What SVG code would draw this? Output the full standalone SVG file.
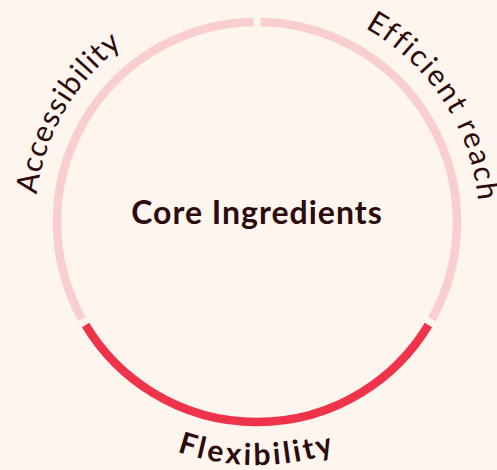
<svg xmlns="http://www.w3.org/2000/svg" width="497" height="470" viewBox="0 0 497 470">
  <style>
    .ring { fill: none; stroke-width: 8.5; stroke-linecap: butt; }
    .soft { stroke: #F9CED0; }
    .strong { stroke: #EE334A; }
    .lbl { font-family: Lato, "Liberation Sans", sans-serif; fill: #2B0B0D; }
    .arc { font-size: 30px; font-weight: 400; letter-spacing: 1.2px; }
    .arcr { letter-spacing: 1.8px; }
    .arcb { font-size: 30px; font-weight: 700; letter-spacing: 3px; }
    .title { font-size: 32px; font-weight: 700; letter-spacing: 1px; }
  </style>
  <defs>
    <path id="tpLeft" d="M 64.74 333 A 222 222 0 0 1 257 0"/>
    <path id="tpRight" d="M 257 0 A 222 222 0 0 1 449.26 333"/>
    <path id="tpBottom" d="M 46.55 343.5 A 243 243 0 0 0 467.45 343.5"/>
  </defs>
  <rect width="497" height="470" fill="#FDF5EE"/>
  <g id="connectors">
    <path id="arc-accessibility" class="ring soft" d="M 82.08 318.96 A 200 200 0 0 1 253.51 22.03"/>
    <path id="arc-efficient" class="ring soft" d="M 260.49 22.03 A 200 200 0 0 1 431.92 318.96"/>
    <path id="arc-flexibility" class="ring strong" d="M 428.43 325.01 A 200 200 0 0 1 85.57 325.01"/>
  </g>
  <g id="node-core">
    <text class="lbl title" x="257" y="224" text-anchor="middle">Core Ingredients</text>
  </g>
  <g id="node-accessibility">
    <text class="lbl arc" text-anchor="middle"><textPath href="#tpLeft" startOffset="50%">Accessibility</textPath></text>
  </g>
  <g id="node-efficient">
    <text class="lbl arc arcr" text-anchor="middle"><textPath href="#tpRight" startOffset="47.5%">Efficient reach</textPath></text>
  </g>
  <g id="node-flexibility">
    <text class="lbl arcb" text-anchor="middle"><textPath href="#tpBottom" startOffset="50%">Flexibility</textPath></text>
  </g>
</svg>
